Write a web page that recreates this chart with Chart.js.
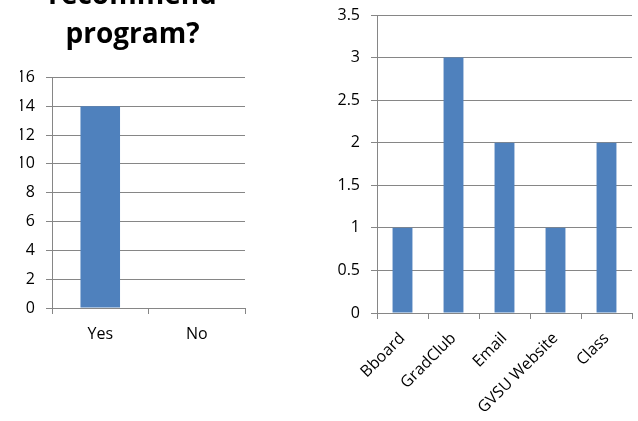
<!DOCTYPE html>
<html>
<head>
<meta charset="utf-8">
<script src="https://cdn.jsdelivr.net/npm/chart.js@4"></script>
<style>
  html, body { margin: 0; padding: 0; background: #fff; overflow: hidden; width: 638px; height: 421px; position: relative; }
  canvas { position: absolute; }
  #c1 { left: 0; top: -40px; }
  #c2 { left: 300px; top: 0; }
</style>
</head>
<body>
<canvas id="c1" width="270" height="461"></canvas>
<canvas id="c2" width="338" height="421"></canvas>
<script>
// data
const titleLines = ['recommend', 'program?'];
const answerLabels = ['Yes', 'No'];
const answerCounts = [14, 0];
const answerMax = 16, answerStep = 2;

const sourceLabels = ['Bboard', 'GradClub', 'Email', 'GVSU Website', 'Class'];
const sourceCounts = [1, 3, 2, 1, 2];
const sourceMax = 3.5, sourceStep = 0.5;

const BAR = '#4F81BD';
const GRID = '#868686';
const FONT = 'Open Sans, Liberation Sans, sans-serif';

Chart.defaults.font.family = FONT;
Chart.defaults.font.size = 16;
Chart.defaults.color = '#000';

// y axis: fixed width, and no extra top/bottom padding from the tick labels
const yScale = (max, step, width) => ({
  min: 0, max: max,
  ticks: { stepSize: step, padding: 11, color: '#000', callback: (v) => String(v) },
  grid: { color: GRID, tickLength: 6 },
  border: { color: GRID },
  afterFit: (s) => { s.width = width; s.paddingTop = 0; s.paddingBottom = 0; }
});

const xScale = (height, extra) => ({
  grid: { display: true, drawOnChartArea: false, offset: true, color: GRID, tickLength: 6 },
  border: { color: GRID },
  ticks: Object.assign({ color: '#000' }, extra),
  afterFit: (s) => { s.height = height; }
});

new Chart(document.getElementById('c1'), {
  type: 'bar',
  data: {
    labels: answerLabels,
    datasets: [{ data: answerCounts, backgroundColor: BAR, barPercentage: 0.41, categoryPercentage: 1 }]
  },
  options: {
    responsive: false,
    animation: false,
    layout: { padding: { left: 20, right: 25, top: 0, bottom: 0 } },
    plugins: {
      legend: { display: false },
      tooltip: { enabled: false },
      title: {
        display: true, text: titleLines, color: '#000',
        font: { size: 28, weight: 'bold', lineHeight: 1.4 },
        padding: { top: 16, bottom: 23 }
      }
    },
    scales: {
      x: xScale(113, { padding: 11, maxRotation: 0 }),
      y: yScale(answerMax, answerStep, 32)
    }
  }
});

new Chart(document.getElementById('c2'), {
  type: 'bar',
  data: {
    labels: sourceLabels,
    datasets: [{ data: sourceCounts, backgroundColor: BAR, barPercentage: 0.39, categoryPercentage: 1 }]
  },
  options: {
    responsive: false,
    animation: false,
    layout: { padding: { left: 0, right: 6, top: 15, bottom: 0 } },
    plugins: { legend: { display: false }, tooltip: { enabled: false } },
    scales: {
      x: xScale(108, { padding: 10, minRotation: 45, maxRotation: 45 }),
      y: yScale(sourceMax, sourceStep, 77)
    }
  }
});
</script>
</body>
</html>
